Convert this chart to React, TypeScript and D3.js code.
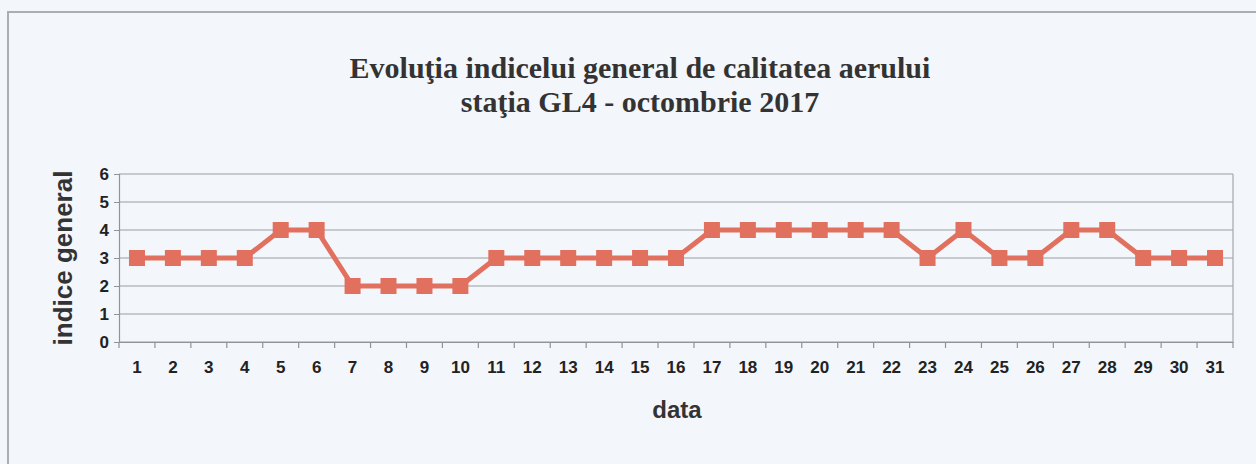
import React, { useEffect, useRef } from 'react'
import { select, scaleBand, scaleLinear, axisLeft, axisBottom, line, format } from 'd3'

// data: air quality index, October 2017, station GL4
const days = Array.from({ length: 31 }, (_, i) => String(i + 1))
const indexValues = [3, 3, 3, 3, 4, 4, 2, 2, 2, 2, 3, 3, 3, 3, 3, 3, 4, 4, 4, 4, 4, 4, 3, 4, 3, 3, 4, 4, 3, 3, 3]
const yTicks = [0, 1, 2, 3, 4, 5, 6]
const titleLines = ['Evoluţia indicelui general de calitatea aerului', 'staţia GL4 - octombrie 2017']

const W = 1256
const H = 464
const margin = { left: 119, right: 23, top: 174, bottom: 122 }
const lineColor = '#e2705f'
const sans = 'Arial, "Liberation Sans", sans-serif'

const App = () => {
  const svgRef = useRef<SVGSVGElement>(null)

  useEffect(() => {
    const svg = select(svgRef.current)
    svg.selectAll('*').remove()

    // page background + frame of the chart
    svg.append('rect').attr('width', W).attr('height', H).attr('fill', '#f3f6fb')
    svg.append('rect')
      .attr('x', 8).attr('y', 12)
      .attr('width', W + 20).attr('height', H + 20)
      .attr('fill', '#f3f6fb')
      .attr('stroke', '#a9adb4').attr('stroke-width', 2)

    const xScale = scaleBand().domain(days).range([margin.left, W - margin.right])
    const yScale = scaleLinear().domain([0, 6]).range([H - margin.bottom, margin.top])

    // gridlines
    svg.append('g')
      .selectAll('line')
      .data(yTicks)
      .join('line')
      .attr('x1', margin.left).attr('x2', W - margin.right)
      .attr('y1', d => yScale(d)).attr('y2', d => yScale(d))
      .attr('stroke', '#9a9ea4').attr('stroke-width', 1.2)

    svg.append('line')
      .attr('x1', W - margin.right).attr('x2', W - margin.right)
      .attr('y1', yScale(6)).attr('y2', yScale(0))
      .attr('stroke', '#a4a8ae').attr('stroke-width', 1.2)

    const yAxis = axisLeft(yScale).tickValues(yTicks).tickFormat(format('d')).tickSize(5).tickPadding(5)
    const gy = svg.append('g').attr('transform', `translate(${margin.left},0)`).call(yAxis)
    gy.select('.domain').attr('stroke', '#8f949a').attr('stroke-width', 1.2)
    gy.selectAll('.tick line').attr('stroke', '#8f949a')
    gy.selectAll('.tick text')
      .attr('font-family', sans).attr('font-size', 17).attr('font-weight', 'bold').attr('fill', '#222')

    const xAxis = axisBottom(xScale).tickSize(0).tickPadding(19)
    const gx = svg.append('g').attr('transform', `translate(0,${yScale(0)})`).call(xAxis)
    gx.select('.domain').attr('stroke', '#8f949a').attr('stroke-width', 1.2)
    gx.selectAll('.tick text')
      .attr('font-family', sans).attr('font-size', 17).attr('font-weight', 'bold').attr('fill', '#222')

    // tick marks on category boundaries
    svg.append('g')
      .selectAll('line')
      .data([...days.map(d => xScale(d) as number), W - margin.right])
      .join('line')
      .attr('x1', d => d).attr('x2', d => d)
      .attr('y1', yScale(0)).attr('y2', yScale(0) + 6)
      .attr('stroke', '#8f949a').attr('stroke-width', 1.2)

    const cx = (i: number) => (xScale(days[i]) as number) + xScale.bandwidth() / 2

    const path = line<number>()
      .x((_, i) => cx(i))
      .y(d => yScale(d))

    svg.append('path')
      .datum(indexValues)
      .attr('d', path)
      .attr('fill', 'none')
      .attr('stroke', lineColor)
      .attr('stroke-width', 5)
      .attr('stroke-linejoin', 'round')

    svg.append('g')
      .selectAll('rect')
      .data(indexValues)
      .join('rect')
      .attr('x', (_, i) => cx(i) - 8)
      .attr('y', d => yScale(d) - 8)
      .attr('width', 16).attr('height', 16)
      .attr('fill', lineColor)

    // title
    svg.append('text')
      .attr('x', 640).attr('text-anchor', 'middle')
      .attr('font-family', '"Liberation Serif", "Times New Roman", serif')
      .attr('font-size', 30).attr('font-weight', 'bold').attr('fill', '#333')
      .selectAll('tspan')
      .data(titleLines)
      .join('tspan')
      .attr('x', 640)
      .attr('y', (_, i) => 78 + i * 34)
      .text(d => d)

    // axis titles
    svg.append('text')
      .attr('x', 677).attr('y', 418).attr('text-anchor', 'middle')
      .attr('font-family', sans).attr('font-size', 24).attr('font-weight', 'bold').attr('fill', '#333')
      .text('data')

    svg.append('text')
      .attr('transform', `translate(72,${(yScale(0) + yScale(6)) / 2}) rotate(-90)`)
      .attr('text-anchor', 'middle')
      .attr('font-family', sans).attr('font-size', 26).attr('font-weight', 'bold').attr('fill', '#333')
      .text('indice general')
  }, [])

  return (
    <div style={{ position: 'fixed', left: 0, top: 0 }}>
      <svg ref={svgRef} width={W} height={H} style={{ display: 'block' }} />
    </div>
  )
}

export default App
